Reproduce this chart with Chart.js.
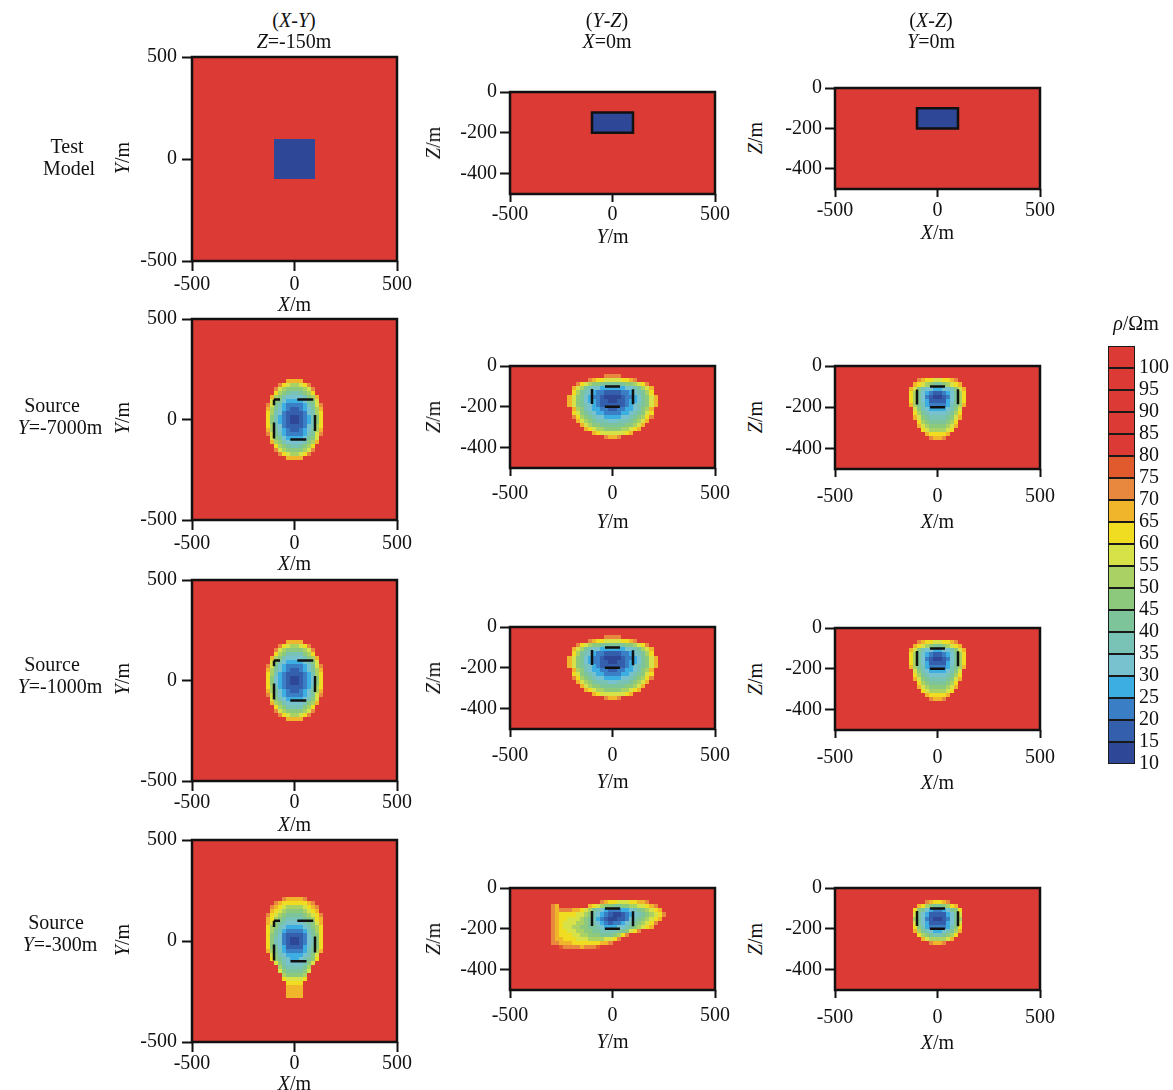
<!DOCTYPE html>
<html>
<head>
<meta charset="utf-8">
<title>Resistivity sections</title>
<script src="https://cdn.jsdelivr.net/npm/chart.js@4.4.0/dist/chart.umd.min.js"></script>
<style>
  html, body { margin: 0; padding: 0; background: #fff; }
  #fig { position: relative; width: 1173px; height: 1090px; overflow: hidden;
         font-family: "Liberation Serif", "Times New Roman", serif; color: #111; }
  .panel { position: absolute; }
  .lbl { position: absolute; font-size: 20px; line-height: 22px; white-space: nowrap;
         text-align: center; transform: translate(-50%, -50%); }
  .rot { transform: translate(-50%, -50%) rotate(-90deg); }
  .lbl i { font-style: italic; }
</style>
</head>
<body>
<div id="fig"></div>
<script>
// ---------------------------------------------------------------------------
// Data
// ---------------------------------------------------------------------------
// Colour-bar classes (Ωm): lower edge of each class
const rhoTicks = [10, 15, 20, 25, 30, 35, 40, 45, 50, 55, 60, 65, 70, 75, 80, 85, 90, 95, 100];
const rhoTop = 105;
const rhoHost = 100;   // background half-space
const rhoBody = 10;    // conductive block

// Block position (m)
const bodyX = [-100, 100];
const bodyY = [-100, 100];
const bodyZ = [-200, -100];

// Axis ticks (m)
const planTicks = [-500, 0, 500];
const depthTicks = [-400, -200, 0];
const planRange = [-500, 500];
const depthRange = [-500, 0];

// Inversion mesh: 20 m cells. Each character is the resistivity class of a
// cell (base-36 digit x 5 Ωm, '.' = host resistivity).
const CELL = 20;

// X-Y slice at Z = -150 m; columns X = -160..160, rows Y = 220..-220
const xyWin = [-160, 220];
const xySrc7000 = [
  "................",
  "......DDDD......",
  "....ECBAABCE....",
  "...EBA9999ABE...",
  "...CA987789AC...",
  "..DA97666679AD..",
  "..B9865555689B..",
  ".EB8754444578BE.",
  ".DA8654334568AD.",
  ".CA7643333467AC.",
  ".C975432234579C.",
  ".C975432234579C.",
  ".CA7643333467AC.",
  ".DA8654334568AD.",
  ".EB8754444578BE.",
  "..B9865555689B..",
  "..DA97666679AD..",
  "...CA987789AC...",
  "...EBA9999ABE...",
  "....ECBAABCE....",
  "......DDDD......",
  "................"
];
const xySrc1000 = [
  "................",
  "......DDDD......",
  "....ECBAABCE....",
  "...EBA9999ABE...",
  "...CA977779AC...",
  "..DA97666679AD..",
  "..B9765555679B..",
  ".EB8654444568BE.",
  ".DA8654334568AD.",
  ".CA7543333457AC.",
  ".C965432234569C.",
  ".C965432234569C.",
  ".CA7543333457AC.",
  ".DA8654334568AD.",
  ".EB8654444568BE.",
  "..B9765555679B..",
  "..DA97666679AD..",
  "...CA977779AC...",
  "...EBA9999ABE...",
  "....ECBAABCE....",
  "......DDDD......",
  "................"
];
// columns X = -160..160, rows Y = 240..-300
const xyWin300 = [-160, 240];
const xySrc300 = [
  "................",
  ".....EDDDDE.....",
  "...EDCCCCCCDE...",
  "..EDCBAAAABCDE..",
  "..DCBA9999ABCD..",
  ".ECBA988889ABCE.",
  ".DCA98777789ACD.",
  ".DB9876666789BD.",
  ".CA9765555679AC.",
  ".CA8754444578AC.",
  ".C986433334689C.",
  ".C976432234679C.",
  ".C976432234679C.",
  ".C986533335689C.",
  ".DA8754444578AD.",
  "..B9765555679B..",
  "..C9876556789C..",
  "...B97666679B...",
  "....A877778A....",
  "....B988889B....",
  ".....A9999A.....",
  ".....CBBBBC.....",
  "......CCCC......",
  "......DDDD......",
  "......DDDD......",
  "......DDDD......",
  "................"
];

// Y-Z slice at X = 0; columns Y = -240..240, rows Z = -40..-380
const yzWin = [-240, -40];
const yzSrc7000 = [
  "..........EEEE..........",
  "......EDCCBBBBCCDE......",
  "...ECBA9988888899ABCE...",
  "..DBA87665555556678ABD..",
  "..CA8765443333445678AC..",
  ".DB986544322223445689BD.",
  ".DB986554332233455689BD.",
  ".DB987654333333456789BD.",
  "..DA9765544334455679AD..",
  "..CB9876554444556789BC..",
  "..ECA98766555566789ACE..",
  "...DBA987776677789ABD...",
  "....DBA9988888899ABD....",
  ".....DCBAA9999AABCD.....",
  ".......DCBBBBBBCD.......",
  "..........EDDE..........",
  "........................"
];
const yzSrc1000 = [
  "..........EEEE..........",
  "......EDCCBBBBCCDE......",
  "...ECBA9988888899ABCE...",
  "..DBA87665555556678ABD..",
  "..CA8765443333445678AC..",
  ".DB986544322223445689BD.",
  ".DB986544332233455689BD.",
  ".DB987654333333456789BD.",
  "..DA9765544334455679AD..",
  "..CB9876554444556789BC..",
  "..ECA98766555566789ACE..",
  "...DBA987776677789ABD...",
  "....DBA9988888899ABD....",
  ".....DCBAA9999AABCD.....",
  ".......DCBBBBBBCD.......",
  "..........EDDE..........",
  "........................"
];
// columns Y = -320..280, rows Z = -40..-320
const yzWin300 = [-320, -40];
const yzSrc300 = [
  "..............................",
  ".............EDCCBBBCCDDE.....",
  ".ED.......DCBA998899AABBCDE...",
  ".EDEEEDDCBA8765444556789ABCD..",
  ".EDCCCCBBA976543223456789ABCE.",
  ".EDCCBBBA987543223346789ABCD..",
  ".EDCBBBAA98765434456789ABCE...",
  ".EDCBBAA99887655566789ABCD....",
  ".EDCCBBAA99887777889BCE.......",
  ".EDCCCBBAA9998889ACE..........",
  ".EDDCCCBBBAAAABBCE............",
  ".EEDDDCCCCCCCDDE..............",
  "...FEEEEDEEEF.................",
  ".............................."
];

// X-Z slice at Y = 0; columns X = -160..160, rows Z = -40..-360
const xzWin = [-160, -40];
const xzSrc7000 = [
  "................",
  "...EDCCBBCCDE...",
  "..DCBA9889ABCD..",
  ".DB9766556679BD.",
  ".CA8654334568AC.",
  ".CA8643223468AC.",
  ".CA8653333568AC.",
  ".DA8754444578AD.",
  "..B9765555679B..",
  "..CA87666678AC..",
  "..DB98777789BD..",
  "...CA988889AC...",
  "...DBA9999ABD...",
  "....CBAAAABC....",
  ".....DCCCCD.....",
  "......EDDE......"
];
const xzSrc1000 = [
  "................",
  "...EDCCBBCCDE...",
  "..DCBA9889ABCD..",
  ".DB9766556679BD.",
  ".CA8654334568AC.",
  ".CA8643223468AC.",
  ".CA8653333568AC.",
  ".DA8754444578AD.",
  "..B9765555679B..",
  "..CA87666678AC..",
  "..DB98777789BD..",
  "...CA988889AC...",
  "...DBA9999ABD...",
  "....CBAAAABC....",
  ".....DCCCCD.....",
  "......EDDE......"
];
const xzSrc300 = [
  "................",
  ".....EDCCDE.....",
  "...DCA9889ACD...",
  "..C9865445689C..",
  "..B8653333568B..",
  "..A8643223468A..",
  "..B8653333568B..",
  "..C9754444579C..",
  "..DA87655678AD..",
  "...CA987789AC...",
  "....DBAAAABD....",
  "......EDDE......",
  "................"
];

// ---------------------------------------------------------------------------
// Styles
// ---------------------------------------------------------------------------
const FONT = '"Liberation Serif", "Times New Roman", serif';
const INK = '#111111';
const binColors = ['#2e4797', '#335fad', '#3a7fc5', '#3daee2', '#78c2cf', '#78c3b5',
  '#7dc49a', '#8cc97c', '#a9d163', '#d6e248', '#f0dd22', '#f0b52a', '#e8883e',
  '#e05a2e', '#dc3a35', '#dc3a35', '#dc3a35', '#dc3a35', '#dc3a35'];
function rhoColor(v) {
  let i = Math.floor((v - rhoTicks[0]) / 5);
  i = Math.max(0, Math.min(binColors.length - 1, i));
  return binColors[i];
}
Chart.defaults.font.family = FONT;
Chart.defaults.color = INK;

// ---------------------------------------------------------------------------
// Helpers
// ---------------------------------------------------------------------------
function gridCells(rows, win) {
  const out = [];
  rows.forEach((row, r) => {
    [...row].forEach((ch, c) => {
      if (ch === '.') return;
      const x0 = win[0] + c * CELL, y1 = win[1] - r * CELL;
      out.push({ x: x0 + CELL / 2, y: y1 - CELL / 2, x0: x0, x1: x0 + CELL,
                 y0: y1 - CELL, y1: y1, v: parseInt(ch, 36) * 5 });
    });
  });
  return out;
}
function blockCell(xs, ys) {
  return [{ x: (xs[0] + xs[1]) / 2, y: (ys[0] + ys[1]) / 2,
            x0: xs[0], x1: xs[1], y0: ys[0], y1: ys[1], v: rhoBody }];
}
function rectPath(xs, ys) {
  return [{ x: xs[0], y: ys[1] }, { x: xs[1], y: ys[1] }, { x: xs[1], y: ys[0] },
          { x: xs[0], y: ys[0] }, { x: xs[0], y: ys[1] }];
}

// Paints the host colour and the mesh cells under the datasets, frames the plot.
const cellPlugin = {
  id: 'cellGrid',
  beforeDatasetsDraw(chart) {
    const { ctx, chartArea: a, scales: { x, y } } = chart;
    ctx.save();
    ctx.beginPath();
    ctx.rect(a.left, a.top, a.width, a.height);
    ctx.clip();
    ctx.fillStyle = rhoColor(rhoHost);
    ctx.fillRect(a.left, a.top, a.width, a.height);
    chart.data.datasets.forEach(ds => {
      if (!ds.meshCells) return;
      ds.data.forEach(p => {
        const px0 = Math.round(x.getPixelForValue(p.x0));
        const px1 = Math.round(x.getPixelForValue(p.x1));
        const py0 = Math.round(y.getPixelForValue(p.y1));
        const py1 = Math.round(y.getPixelForValue(p.y0));
        ctx.fillStyle = rhoColor(p.v);
        ctx.fillRect(px0, py0, px1 - px0, py1 - py0);
      });
    });
    ctx.restore();
  },
  afterDatasetsDraw(chart) {
    const { ctx, chartArea: a } = chart;
    ctx.save();
    ctx.strokeStyle = INK;
    ctx.lineWidth = 2.5;
    ctx.strokeRect(a.left, a.top, a.width, a.height);
    ctx.restore();
  }
};

const fig = document.getElementById('fig');
function label(html, x, y, rot) {
  const d = document.createElement('div');
  d.className = 'lbl' + (rot ? ' rot' : '');
  d.innerHTML = html;
  d.style.left = x + 'px';
  d.style.top = y + 'px';
  fig.appendChild(d);
}

const AX_W = 64, AX_H = 44, PAD_T = 14, PAD_R = 28;
function panel(p) {
  const [L, T, W, H] = p.box;
  const cw = W + AX_W + PAD_R, ch = H + PAD_T + AX_H;
  const div = document.createElement('div');
  div.className = 'panel';
  div.style.left = (L - AX_W) + 'px';
  div.style.top = (T - PAD_T) + 'px';
  const cv = document.createElement('canvas');
  cv.width = cw; cv.height = ch;
  cv.style.width = cw + 'px'; cv.style.height = ch + 'px';
  div.appendChild(cv);
  fig.appendChild(div);

  const datasets = [{ label: 'ρ', data: p.cells, meshCells: true,
                      pointRadius: 0, pointHoverRadius: 0, showLine: false }];
  if (p.outline) {
    datasets.push({ label: 'block', data: p.outline, showLine: true, fill: false,
      borderColor: INK, borderWidth: 2.5, borderDash: p.dash || [],
      borderDashOffset: p.dashOffset || 0, borderCapStyle: p.dash ? 'butt' : 'square',
      borderJoinStyle: 'miter', pointRadius: 0, pointHoverRadius: 0, tension: 0 });
  }
  const tickFont = { family: FONT, size: 20 };
  new Chart(cv, {
    type: 'scatter',
    data: { datasets },
    options: {
      responsive: false, animation: false, events: [],
      layout: { padding: { top: PAD_T, right: PAD_R, left: 0, bottom: 0 } },
      plugins: { legend: { display: false }, tooltip: { enabled: false } },
      scales: {
        x: {
          type: 'linear', min: planRange[0], max: planRange[1],
          afterBuildTicks: s => { s.ticks = planTicks.map(v => ({ value: v })); },
          afterFit: s => { s.height = AX_H; },
          grid: { display: true, drawOnChartArea: false, drawTicks: true,
                  tickLength: p.xTick, tickWidth: 2, tickColor: INK, color: INK },
          border: { display: false },
          ticks: { color: INK, font: tickFont, padding: p.xPad, maxRotation: 0,
                   autoSkip: false, callback: v => String(v) }
        },
        y: {
          type: 'linear', min: p.yRange[0], max: p.yRange[1],
          afterBuildTicks: s => { s.ticks = p.yTicks.map(v => ({ value: v })); },
          afterFit: s => { s.width = AX_W; },
          grid: { display: true, drawOnChartArea: false, drawTicks: true,
                  tickLength: 10, tickWidth: 2, tickColor: INK, color: INK },
          border: { display: false },
          ticks: { color: INK, font: tickFont, padding: p.yPad, autoSkip: false,
                   callback: v => String(v) }
        }
      }
    },
    plugins: [cellPlugin]
  });

  label(p.xTitle, L + W / 2, p.xTitleY);
  label(p.yTitle, p.yTitleX, T + H / 2, true);
}

// ---------------------------------------------------------------------------
// Panels
// ---------------------------------------------------------------------------
const XY_DASH = [16, 17.3], XY_OFF = 10;
const SEC_DASH = [15, 15.75], SEC_OFF = 17.75;
const tX = '<i>X</i>/m', tY = '<i>Y</i>/m', tZ = '<i>Z</i>/m';

const panelList = [
  // Test model
  { box: [192, 54, 205, 207], yRange: planRange, yTicks: planTicks,
    cells: blockCell(bodyX, bodyY), outline: null,
    xTick: 10, xPad: 2, yPad: 5, xTitle: tX, xTitleY: 304, yTitle: tY, yTitleX: 122 },
  { box: [510, 91, 205, 103], yRange: depthRange, yTicks: depthTicks,
    cells: blockCell(bodyY, bodyZ), outline: rectPath(bodyY, bodyZ),
    xTick: 8, xPad: 1, yPad: 3, xTitle: tY, xTitleY: 236, yTitle: tZ, yTitleX: 433 },
  { box: [835, 87, 205, 102], yRange: depthRange, yTicks: depthTicks,
    cells: blockCell(bodyX, bodyZ), outline: rectPath(bodyX, bodyZ),
    xTick: 8, xPad: 2, yPad: 3, xTitle: tX, xTitleY: 232, yTitle: tZ, yTitleX: 755 },
  // Source Y = -7000 m
  { box: [192, 316, 205, 204], yRange: planRange, yTicks: planTicks,
    cells: gridCells(xySrc7000, xyWin), outline: rectPath(bodyX, bodyY), dash: XY_DASH, dashOffset: XY_OFF,
    xTick: 10, xPad: 2, yPad: 5, xTitle: tX, xTitleY: 563, yTitle: tY, yTitleX: 122 },
  { box: [510, 365, 205, 103], yRange: depthRange, yTicks: depthTicks,
    cells: gridCells(yzSrc7000, yzWin), outline: rectPath(bodyY, bodyZ), dash: SEC_DASH, dashOffset: SEC_OFF,
    xTick: 8, xPad: 6, yPad: 3, xTitle: tY, xTitleY: 521, yTitle: tZ, yTitleX: 433 },
  { box: [835, 365, 205, 104], yRange: depthRange, yTicks: depthTicks,
    cells: gridCells(xzSrc7000, xzWin), outline: rectPath(bodyX, bodyZ), dash: SEC_DASH, dashOffset: SEC_OFF,
    xTick: 8, xPad: 8, yPad: 3, xTitle: tX, xTitleY: 521, yTitle: tZ, yTitleX: 755 },
  // Source Y = -1000 m
  { box: [192, 577, 205, 204], yRange: planRange, yTicks: planTicks,
    cells: gridCells(xySrc1000, xyWin), outline: rectPath(bodyX, bodyY), dash: XY_DASH, dashOffset: XY_OFF,
    xTick: 10, xPad: 0, yPad: 5, xTitle: tX, xTitleY: 824, yTitle: tY, yTitleX: 122 },
  { box: [510, 626, 205, 103], yRange: depthRange, yTicks: depthTicks,
    cells: gridCells(yzSrc1000, yzWin), outline: rectPath(bodyY, bodyZ), dash: SEC_DASH, dashOffset: SEC_OFF,
    xTick: 8, xPad: 7, yPad: 3, xTitle: tY, xTitleY: 781, yTitle: tZ, yTitleX: 433 },
  { box: [835, 627, 205, 103], yRange: depthRange, yTicks: depthTicks,
    cells: gridCells(xzSrc1000, xzWin), outline: rectPath(bodyX, bodyZ), dash: SEC_DASH, dashOffset: SEC_OFF,
    xTick: 8, xPad: 8, yPad: 3, xTitle: tX, xTitleY: 782, yTitle: tZ, yTitleX: 755 },
  // Source Y = -300 m
  { box: [192, 837, 205, 205], yRange: planRange, yTicks: planTicks,
    cells: gridCells(xySrc300, xyWin300), outline: rectPath(bodyX, bodyY), dash: XY_DASH, dashOffset: XY_OFF,
    xTick: 10, xPad: 0, yPad: 5, xTitle: tX, xTitleY: 1083, yTitle: tY, yTitleX: 122 },
  { box: [510, 887, 205, 103], yRange: depthRange, yTicks: depthTicks,
    cells: gridCells(yzSrc300, yzWin300), outline: rectPath(bodyY, bodyZ), dash: SEC_DASH, dashOffset: SEC_OFF,
    xTick: 8, xPad: 6, yPad: 3, xTitle: tY, xTitleY: 1041, yTitle: tZ, yTitleX: 433 },
  { box: [835, 887, 205, 103], yRange: depthRange, yTicks: depthTicks,
    cells: gridCells(xzSrc300, xzWin), outline: rectPath(bodyX, bodyZ), dash: SEC_DASH, dashOffset: SEC_OFF,
    xTick: 8, xPad: 8, yPad: 3, xTitle: tX, xTitleY: 1042, yTitle: tZ, yTitleX: 755 }
];
panelList.forEach(panel);

// Column headings
label('(<i>X</i>-<i>Y</i>)', 294, 20);
label('<i>Z</i>=-150m', 294, 41);
label('(<i>Y</i>-<i>Z</i>)', 607, 20);
label('<i>X</i>=0m', 607, 41);
label('(<i>X</i>-<i>Z</i>)', 931, 20);
label('<i>Y</i>=0m', 931, 41);

// Row headings
label('Test', 67, 146);
label('Model', 69, 168);
label('Source', 52, 405);
label('<i>Y</i>=-7000m', 60, 427);
label('Source', 52, 664);
label('<i>Y</i>=-1000m', 60, 686);
label('Source', 56, 922);
label('<i>Y</i>=-300m', 60, 944);

// ---------------------------------------------------------------------------
// Colour bar
// ---------------------------------------------------------------------------
(function colourBar() {
  const L = 1108, T = 342, W = 27, H = 426, AXR = 38, PT = 12, PB = 12;
  const div = document.createElement('div');
  div.className = 'panel';
  div.style.left = L + 'px';
  div.style.top = (T - PT) + 'px';
  const cv = document.createElement('canvas');
  cv.width = W + AXR; cv.height = H + PT + PB;
  cv.style.width = cv.width + 'px'; cv.style.height = cv.height + 'px';
  div.appendChild(cv);
  fig.appendChild(div);
  const datasets = rhoTicks.map((lo, i) => ({
    label: String(lo),
    data: [[lo, i < rhoTicks.length - 1 ? rhoTicks[i + 1] : rhoTop]],
    backgroundColor: rhoColor(lo), borderColor: '#1a1a1a', borderWidth: 1.3,
    borderSkipped: false, grouped: false, barPercentage: 1, categoryPercentage: 1
  }));
  new Chart(cv, {
    type: 'bar',
    data: { labels: ['ρ'], datasets },
    options: {
      responsive: false, animation: false, events: [],
      layout: { padding: { top: PT, bottom: PB, left: 0, right: 0 } },
      plugins: { legend: { display: false }, tooltip: { enabled: false } },
      scales: {
        x: { display: false },
        y: {
          position: 'right', min: rhoTicks[0], max: rhoTop,
          afterBuildTicks: s => { s.ticks = rhoTicks.map(v => ({ value: v })); },
          afterFit: s => { s.width = AXR; },
          grid: { display: false, drawTicks: false },
          border: { display: false },
          ticks: { color: INK, font: { family: FONT, size: 20 }, padding: 4,
                   autoSkip: false, callback: v => String(v) }
        }
      }
    }
  });
  label('<i>ρ</i>/Ωm', 1136, 323);
})();
</script>
</body>
</html>
